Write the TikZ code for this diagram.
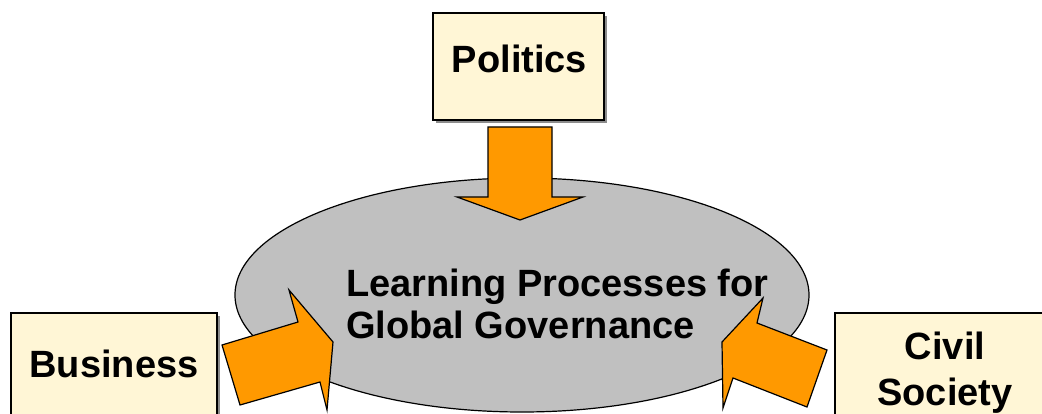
\documentclass[tikz,border=0pt]{standalone}
\usepackage{fontspec}
\usetikzlibrary{shapes.geometric}
\newfontfamily\lab{Liberation Sans}
\definecolor{boxfill}{HTML}{FFF6D6}
\definecolor{arrfill}{HTML}{FF9900}
\definecolor{ellfill}{HTML}{C0C0C0}
\begin{document}
\begin{tikzpicture}[x=1pt,y=-1pt,
  srcbox/.style={draw=black, line width=1.4pt, fill=boxfill, inner sep=0pt},
  shadowbox/.style={fill=black!45, draw=none, inner sep=0pt},
  blockarrow/.style={draw=black, line width=1.2pt, fill=arrfill, line join=miter},
  lbl/.style={font=\lab\bfseries\fontsize{38}{44}\selectfont, inner sep=0pt}]
\useasboundingbox (0,0) rectangle (1042,414);
\clip (0,0) rectangle (1042,414);
% central ellipse
\node (core) [ellipse, draw=black, line width=1.2pt, fill=ellfill,
  minimum width=574pt, minimum height=234pt, inner sep=0pt] at (522,295) {};
\node (core1) [lbl, anchor=base west] at (346,297) {Learning Processes for};
\node (core2) [lbl, anchor=base west] at (346,338) {Global Governance};
% Politics
\node (polsh) [shadowbox, minimum width=171pt, minimum height=107pt] at (521.5,69.5) {};
\node (pol) [srcbox, minimum width=171pt, minimum height=107pt] at (518.5,66.5) {};
\node (poltxt) [lbl, anchor=base] at (519.5,73) {Politics};
% Business
\node (bussh) [shadowbox, minimum width=206pt, minimum height=127pt] at (117,379.5) {};
\node (bus) [srcbox, minimum width=206pt, minimum height=127pt] at (114,376.5) {};
\node (bustxt) [lbl, anchor=base] at (114,377) {Business};
% Civil Society
\node (civsh) [shadowbox, minimum width=225pt, minimum height=127pt] at (950.5,379.5) {};
\node (civ) [srcbox, minimum width=225pt, minimum height=127pt] at (947.5,376.5) {};
\node (civtxt1) [lbl, anchor=base] at (945,359) {Civil};
\node (civtxt2) [lbl, anchor=base] at (945,405) {Society};
% block arrows
\draw[blockarrow] (488,127) -- (552,127) -- (552,197) -- (583,197) -- (520,220)
  -- (457,197) -- (488,197) -- cycle;
\draw[blockarrow] (222,345) -- (298,322) -- (289,290) -- (333,342) -- (327,410)
  -- (320,382) -- (240,405) -- cycle;
\draw[blockarrow] (827,350) -- (757,323) -- (763,298) -- (722,342) -- (723,408)
  -- (733,378) -- (807,407) -- cycle;
\end{tikzpicture}
\end{document}
